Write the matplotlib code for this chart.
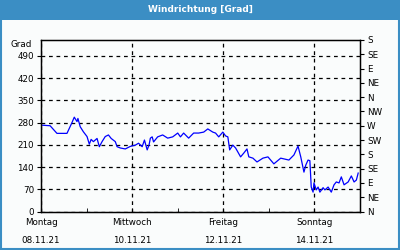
import matplotlib.pyplot as plt
from matplotlib.patches import Rectangle

# time in days since Montag 08.11.21 00:00, wind direction in degrees (+180 offset scale)
days = [0.0, 0.2, 0.35, 0.57, 0.68, 0.73, 0.79, 0.81, 0.86, 0.93, 1.01, 1.06,
        1.1, 1.15, 1.23, 1.28, 1.34, 1.41, 1.48, 1.54, 1.63, 1.67, 1.74, 1.85,
        1.96, 2.07, 2.14, 2.22, 2.27, 2.33, 2.37, 2.4, 2.44, 2.47, 2.56, 2.67,
        2.78, 2.89, 3.0, 3.06, 3.13, 3.24, 3.35, 3.46, 3.57, 3.66, 3.77, 3.83,
        3.9, 3.99, 4.05, 4.1, 4.14, 4.21, 4.27, 4.38, 4.45, 4.52, 4.56, 4.65,
        4.74, 4.87, 4.98, 5.11, 5.26, 5.44, 5.55, 5.64, 5.7, 5.77, 5.81, 5.86,
        5.9, 5.93, 5.97, 5.99, 6.04, 6.08, 6.12, 6.19, 6.23, 6.3, 6.37, 6.43,
        6.48, 6.54, 6.59, 6.65, 6.74, 6.81, 6.87, 6.92, 6.96]
values = [272, 270, 246, 246, 280, 297, 283, 293, 267, 251, 236, 212,
          227, 220, 230, 204, 220, 236, 241, 230, 220, 204, 200, 197,
          205, 209, 215, 204, 225, 194, 209, 231, 235, 219, 235, 241,
          231, 235, 247, 235, 247, 231, 247, 247, 250, 260, 250, 247,
          235, 250, 238, 235, 194, 209, 200, 172, 184, 197, 172, 168,
          156, 168, 172, 150, 168, 162, 178, 206, 172, 124, 146, 162,
          160, 77, 61, 90, 68, 77, 61, 75, 68, 77, 61, 84,
          93, 90, 109, 84, 93, 112, 93, 99, 121]

day_ticks = [0, 2, 4, 6]
day_labels = ["Montag\n08.11.21", "Mittwoch\n10.11.21",
              "Freitag\n12.11.21", "Sonntag\n14.11.21"]
grad_ticks = [0, 70, 140, 210, 280, 350, 420, 490]
dir_ticks = list(range(0, 541, 45))
dir_labels = ["N", "NE", "E", "SE", "S", "SW", "W", "NW",
              "N", "NE", "E", "SE", "S"]

BLUE = "#3b8ec4"
BG = "#fafcfc"

plt.rcParams["font.family"] = "DejaVu Sans"
plt.rcParams["font.size"] = 6.3

fig = plt.figure(figsize=(4, 2.5), dpi=100, facecolor=BG)
# title bar and frame
fig.patches.append(Rectangle((0, 0.92), 1, 0.08, transform=fig.transFigure,
                             facecolor=BLUE, edgecolor="none", zorder=0))
fig.patches.append(Rectangle((0.0025, 0.004), 0.995, 0.992, transform=fig.transFigure,
                             facecolor="none", edgecolor=BLUE, linewidth=1.5, zorder=5))
fig.text(0.5, 0.962, "Windrichtung [Grad]", ha="center", va="center",
         color="white", fontsize=6.5, fontweight="bold")

ax = fig.add_axes([0.1025, 0.154, 0.7975, 0.686], facecolor=BG)
ax.plot(days, values, color="#0000ff", linewidth=0.9)
ax.set_xlim(0, 7)
ax.set_ylim(0, 540)
ax.set_yticks(grad_ticks)
ax.set_xticks(day_ticks)
ax.set_xticklabels(day_labels, linespacing=2.2)
ax.set_xticks([1, 3, 5, 7], minor=True)
ax.grid(True, which="major", color="black", linestyle=(0, (3, 3)), linewidth=0.9)
ax.tick_params(axis="x", which="both", direction="in", length=3, pad=5, colors="black")
ax.tick_params(axis="y", direction="out", length=3, pad=2)
for s in ax.spines.values():
    s.set_linewidth(1.0)
ax.text(-0.03, 525, "Grad", transform=ax.get_yaxis_transform(),
        ha="right", va="center")

ax2 = ax.twinx()
ax2.set_ylim(0, 540)
ax2.set_yticks(dir_ticks)
ax2.set_yticklabels(dir_labels)
ax2.tick_params(axis="y", direction="out", length=3, pad=2)

fig.savefig("out.png", dpi=100, facecolor=BG)
